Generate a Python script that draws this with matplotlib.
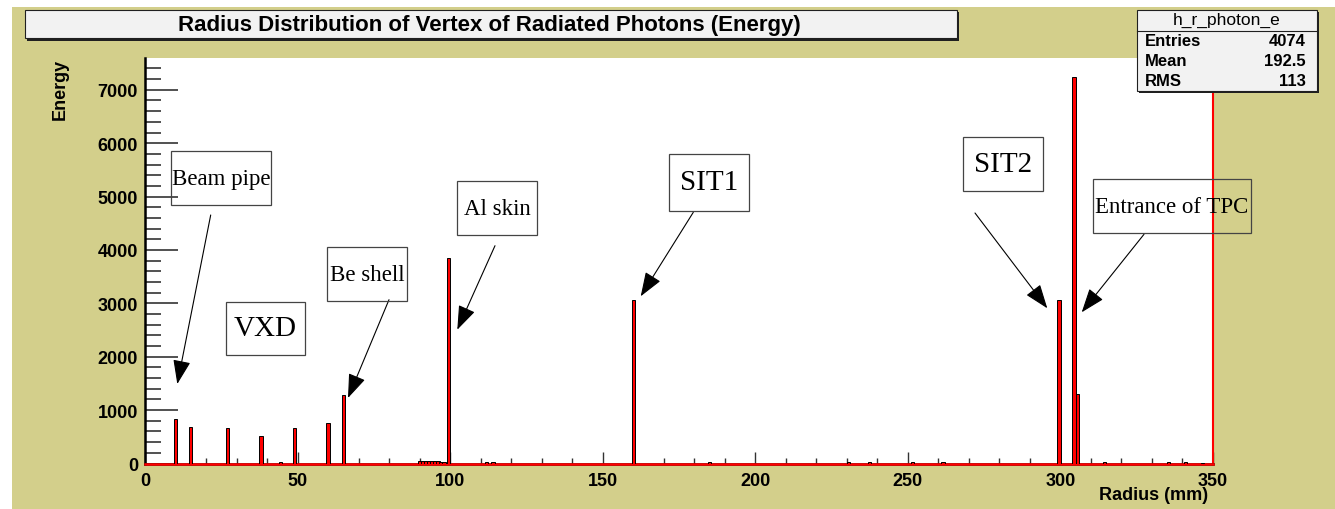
import matplotlib
matplotlib.use('Agg')
import matplotlib.pyplot as plt
from matplotlib.patches import Rectangle
from matplotlib.ticker import MultipleLocator

# histogram bins (1 mm wide) and deposited energy
radius_mm = [10, 15, 27, 38, 44.5, 49, 60, 65,
             90, 91, 92, 93, 94, 95, 96, 97, 98, 99.5,
             112, 114, 160, 185, 230.5, 237.5, 251.5, 261.5,
             299.5, 304.5, 305.5, 314.5, 335.5, 341, 346.5]
energy = [840, 685, 665, 510, 20, 665, 755, 1280,
          50, 50, 45, 40, 40, 50, 50, 25, 25, 3850,
          20, 35, 3055, 25, 20, 20, 20, 20,
          3055, 7240, 1300, 20, 20, 20, 15]

labels = ['Beam pipe', 'VXD', 'Be shell', 'Al skin', 'SIT1', 'SIT2', 'Entrance of TPC']

stats_names = ['Entries', 'Mean', 'RMS']
stats_values = ['4074', '192.5', '113']

W, H = 1335, 510
KHAKI = '#d3cf8b'
SANS = 'Liberation Sans'
SERIF = 'Liberation Serif'


def fx(x):
    return x / W


def fy(y):
    return 1 - y / H


def fig_rect(fig, x0, y0, x1, y1, **kw):
    r = Rectangle((fx(x0), fy(y1)), (x1 - x0) / W, (y1 - y0) / H,
                  transform=fig.transFigure, **kw)
    fig.patches.append(r)
    return r


fig = plt.figure(figsize=(W / 100, H / 100), dpi=100, facecolor='white')
fig_rect(fig, 12, 8, W, H, facecolor=KHAKI, edgecolor='none', zorder=-5)

ax = fig.add_axes([fx(145), fy(464.5), (1213 - 145) / W, (464.5 - 59.3) / H])
ax.set_facecolor('white')

ax.bar(radius_mm, energy, width=1.1, color='#ff0000', edgecolor='black',
       linewidth=0.7, zorder=3)
ax.axhline(0, color='#ff0000', lw=1.8, zorder=2.8, clip_on=False)

ax.set_xlim(0, 350)
ax.set_ylim(0, 7590)
ax.xaxis.set_major_locator(MultipleLocator(50))
ax.xaxis.set_minor_locator(MultipleLocator(10))
ax.yaxis.set_major_locator(MultipleLocator(1000))
ax.yaxis.set_minor_locator(MultipleLocator(200))

ax.spines['top'].set_visible(False)
ax.spines['right'].set_color('#ff0000')
ax.spines['right'].set_linewidth(1.5)
ax.spines['left'].set_linewidth(1.8)
ax.spines['bottom'].set_linewidth(1.8)

ax.tick_params(axis='y', which='major', direction='in', length=24, width=1.2,
               color='#333333', pad=5)
ax.tick_params(axis='y', which='minor', direction='in', length=11.5, width=1.2,
               color='#333333')
ax.tick_params(axis='x', which='major', direction='in', length=8.6, width=1.0,
               color='#333333', pad=6)
ax.tick_params(axis='x', which='minor', direction='in', length=4.3, width=1.0,
               color='#333333')
for t in ax.get_xticklabels() + ax.get_yticklabels():
    t.set_fontfamily(SANS)
    t.set_fontweight('bold')
    t.set_fontsize(13)

# axis titles (ROOT style: aligned to axis end)
fig.text(fx(60), fy(59), 'Energy', rotation=90, ha='center', va='top',
         family=SANS, weight='bold', fontsize=13)
fig.text(fx(1208), fy(496), 'Radius (mm)', ha='right', va='center',
         family=SANS, weight='bold', fontsize=13)

# title box with shadow
fig_rect(fig, 27, 12.5, 959, 41.5, facecolor='#202020', edgecolor='none', zorder=1)
fig_rect(fig, 25, 10.7, 957, 39.3, facecolor='#f2f2f2', edgecolor='#202020',
         lw=0.8, zorder=2)
fig.text(fx(489), fy(25), 'Radius Distribution of Vertex of Radiated Photons (Energy)',
         ha='center', va='center', family=SANS, weight='bold', fontsize=16, zorder=3)

# stats box
fig_rect(fig, 1138.5, 12.5, 1318.5, 94, facecolor='#202020', edgecolor='none', zorder=4)
fig_rect(fig, 1136.7, 10.7, 1316.7, 92, facecolor='#f2f2f2', edgecolor='#202020',
         lw=0.8, zorder=5)
fig.add_artist(plt.Line2D([fx(1136.7), fx(1316.7)], [fy(31.7), fy(31.7)],
                          transform=fig.transFigure, color='#202020', lw=0.8, zorder=6))
fig.text(fx(1226.7), fy(20.5), 'h_r_photon_e', ha='center', va='center',
         family=SANS, fontsize=12.5, zorder=6)
for i, (n, v) in enumerate(zip(stats_names, stats_values)):
    yy = fy(41.7 + i * 20)
    fig.text(fx(1145), yy, n, ha='left', va='center', family=SANS,
             weight='bold', fontsize=12, zorder=6)
    fig.text(fx(1306), yy, v, ha='right', va='center', family=SANS,
             weight='bold', fontsize=12, zorder=6)

# annotation boxes: (x0, y0, x1, y1) in pixels, font size, arrow start, arrow tip
label_layout = [
    ((170.7, 152.3, 271, 206), 16.5, (210.7, 216), (177.3, 385)),
    ((225.7, 302.7, 305.3, 356), 21, None, None),
    ((327.3, 248, 407.3, 302.3), 16.5, (389, 300.7), (348, 399)),
    ((456.7, 182.3, 537.3, 236), 16.5, (495, 246.7), (457.3, 330.7)),
    ((668.7, 155, 749, 211.7), 21, (693.3, 213.3), (640.7, 297.3)),
    ((962.7, 138.3, 1042.7, 192), 21, (975, 214), (1047.3, 309.3)),
    ((1092.7, 180.3, 1250.7, 234.3), 16.5, (1144, 235.3), (1081.7, 313.3)),
]
for text, (bx, fs, start, tip) in zip(labels, label_layout):
    fig_rect(fig, *bx, facecolor='none', edgecolor='#444444', lw=0.9, zorder=7)
    fig.text(fx((bx[0] + bx[2]) / 2), fy((bx[1] + bx[3]) / 2), text,
             ha='center', va='center', family=SERIF, fontsize=fs, zorder=7)
    if start is not None:
        ax.annotate('', xy=(fx(tip[0]), fy(tip[1])), xycoords='figure fraction',
                    xytext=(fx(start[0]), fy(start[1])), textcoords='figure fraction',
                    arrowprops=dict(arrowstyle='-|>,head_length=1.5,head_width=0.55',
                                    mutation_scale=10, color='black', lw=0.8,
                                    shrinkA=0, shrinkB=0),
                    annotation_clip=False, zorder=8)

fig.savefig('out.png', dpi=100)
